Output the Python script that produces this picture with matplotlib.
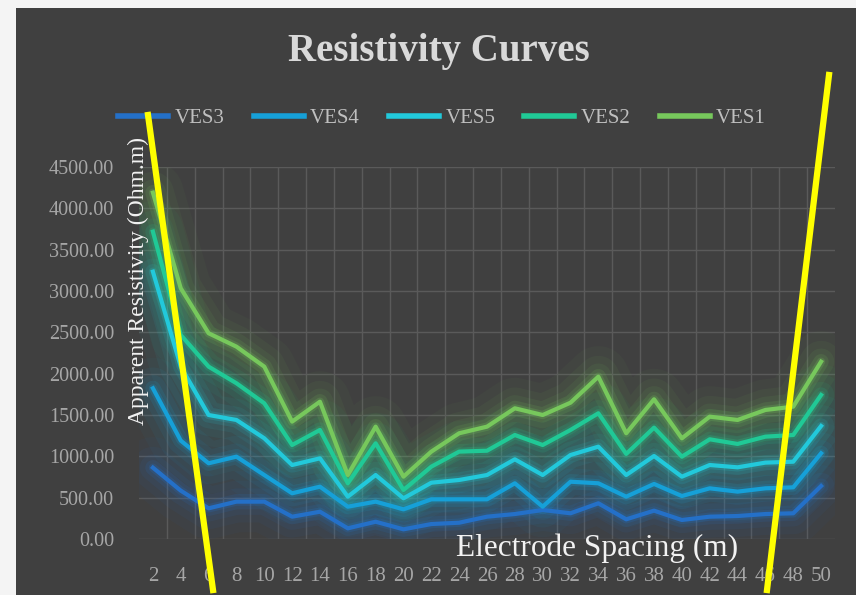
import numpy as np
import matplotlib.pyplot as plt
from matplotlib.patches import Rectangle
from matplotlib.lines import Line2D

# electrode spacing (m) - category axis
spacing = [2, 4, 6, 8, 10, 12, 14, 16, 18, 20, 22, 24, 26, 28, 30,
           32, 34, 36, 38, 40, 42, 44, 46, 48, 50]

# apparent resistivity per sounding (Ohm.m), stacked in this order
ves3 = [863, 585, 371, 452, 452, 270, 330, 129, 209, 117, 181, 197, 270,
        302, 351, 311, 432, 238, 343, 230, 270, 278, 302, 311, 641]
ves4 = [960, 605, 545, 544, 322, 283, 303, 262, 243, 242, 299, 283, 210,
        372, 40, 382, 242, 274, 323, 290, 343, 295, 311, 314, 396]
ves5 = [1411, 895, 584, 444, 444, 342, 343, 121, 322, 133, 201, 234, 294,
        290, 383, 323, 443, 262, 338, 234, 282, 294, 311, 310, 330]
ves2 = [484, 383, 585, 444, 424, 242, 343, 162, 384, 101, 194, 343, 294,
        294, 363, 303, 404, 255, 343, 242, 311, 283, 314, 323, 375]
ves1 = [472, 565, 404, 443, 443, 283, 342, 100, 201, 161, 182, 222, 291,
        323, 363, 330, 443, 250, 343, 222, 274, 290, 323, 343, 403]

names = ["VES3", "VES4", "VES5", "VES2", "VES1"]
colors = ["#2470c8", "#16a0d8", "#22c9db", "#20c996", "#77c85c"]
y_ticks = [0, 500, 1000, 1500, 2000, 2500, 3000, 3500, 4000, 4500]

# hand-drawn yellow marker strokes on the picture (figure pixels)
marker_strokes = [((148, 115), (213, 590)), ((829, 75), (767, 590))]

BG = "#404040"
W, H = 856, 595

plt.rcParams["font.family"] = ["Liberation Serif", "DejaVu Serif"]

fig = plt.figure(figsize=(W / 100, H / 100), dpi=100, facecolor="#f4f4f4")
fig.patches.append(Rectangle((16 / W, 0), 1, 1 - 8 / H, transform=fig.transFigure,
                             facecolor=BG, edgecolor="none", zorder=0))

ax = fig.add_axes([139 / W, 1 - 539 / H, 696 / W, 372 / H])
ax.set_zorder(1)
ax.patch.set_alpha(0)

x = np.arange(len(spacing))
stacked = np.cumsum(np.vstack([ves3, ves4, ves5, ves2, ves1]), axis=0)

for vals, name, col in zip(stacked, names, colors):
    # soft glow around each line
    for lw, a in [(44, 0.04), (30, 0.06), (19, 0.08), (11, 0.13), (6, 0.2)]:
        ax.plot(x, vals, color=col, lw=lw, alpha=a, solid_capstyle="round",
                solid_joinstyle="round", zorder=2)
    ax.plot(x, vals, color=col, lw=3, label=name, solid_joinstyle="round", zorder=3)

ax.set_xlim(-0.5, len(spacing) - 0.5)
ax.set_ylim(0, 4500)
ax.set_yticks(y_ticks)
ax.set_yticklabels([f"{v:.2f}" for v in y_ticks])
ax.set_xticks(x)
ax.set_xticklabels([str(s) for s in spacing])
ax.set_xticks(x[:-1] + 0.5, minor=True)

ax.grid(axis="y", which="major", color="#5a5a5a", lw=1)
ax.grid(axis="x", which="minor", color="#5a5a5a", lw=1)
ax.set_axisbelow(True)
for sp in ax.spines.values():
    sp.set_visible(False)
ax.tick_params(axis="both", which="both", length=0)
ax.tick_params(axis="y", pad=18, labelsize=14.5, labelcolor="#a6a6a6")
ax.tick_params(axis="x", pad=20, labelsize=15, labelcolor="#a6a6a6")

fig.text(439 / W, 1 - 52 / H, "Resistivity Curves", ha="center", va="center",
         fontsize=28, fontweight="bold", color="#d9d9d9")
fig.text(597 / W, 1 - 548 / H, "Electrode Spacing (m)", ha="center", va="center",
         fontsize=22.5, color="#f2f2f2")
fig.text(138 / W, 1 - 281 / H, "Apparent Resistivity (Ohm.m)", ha="center",
         va="center", rotation=90, fontsize=17, color="#f2f2f2")

leg = fig.legend(loc="center", bbox_to_anchor=(442 / W, 1 - 118 / H), ncol=5,
                 frameon=False, fontsize=15, handlelength=2.4, handletextpad=0.3,
                 columnspacing=1.4, labelcolor="#bfbfbf")
for h in leg.get_lines():
    h.set_linewidth(4)

for (x0, y0), (x1, y1) in marker_strokes:
    fig.add_artist(Line2D([x0 / W, x1 / W], [1 - y0 / H, 1 - y1 / H],
                          transform=fig.transFigure, color="#ffff00", lw=4.5, zorder=10))

fig.savefig("out.png", dpi=100, facecolor=fig.get_facecolor())
